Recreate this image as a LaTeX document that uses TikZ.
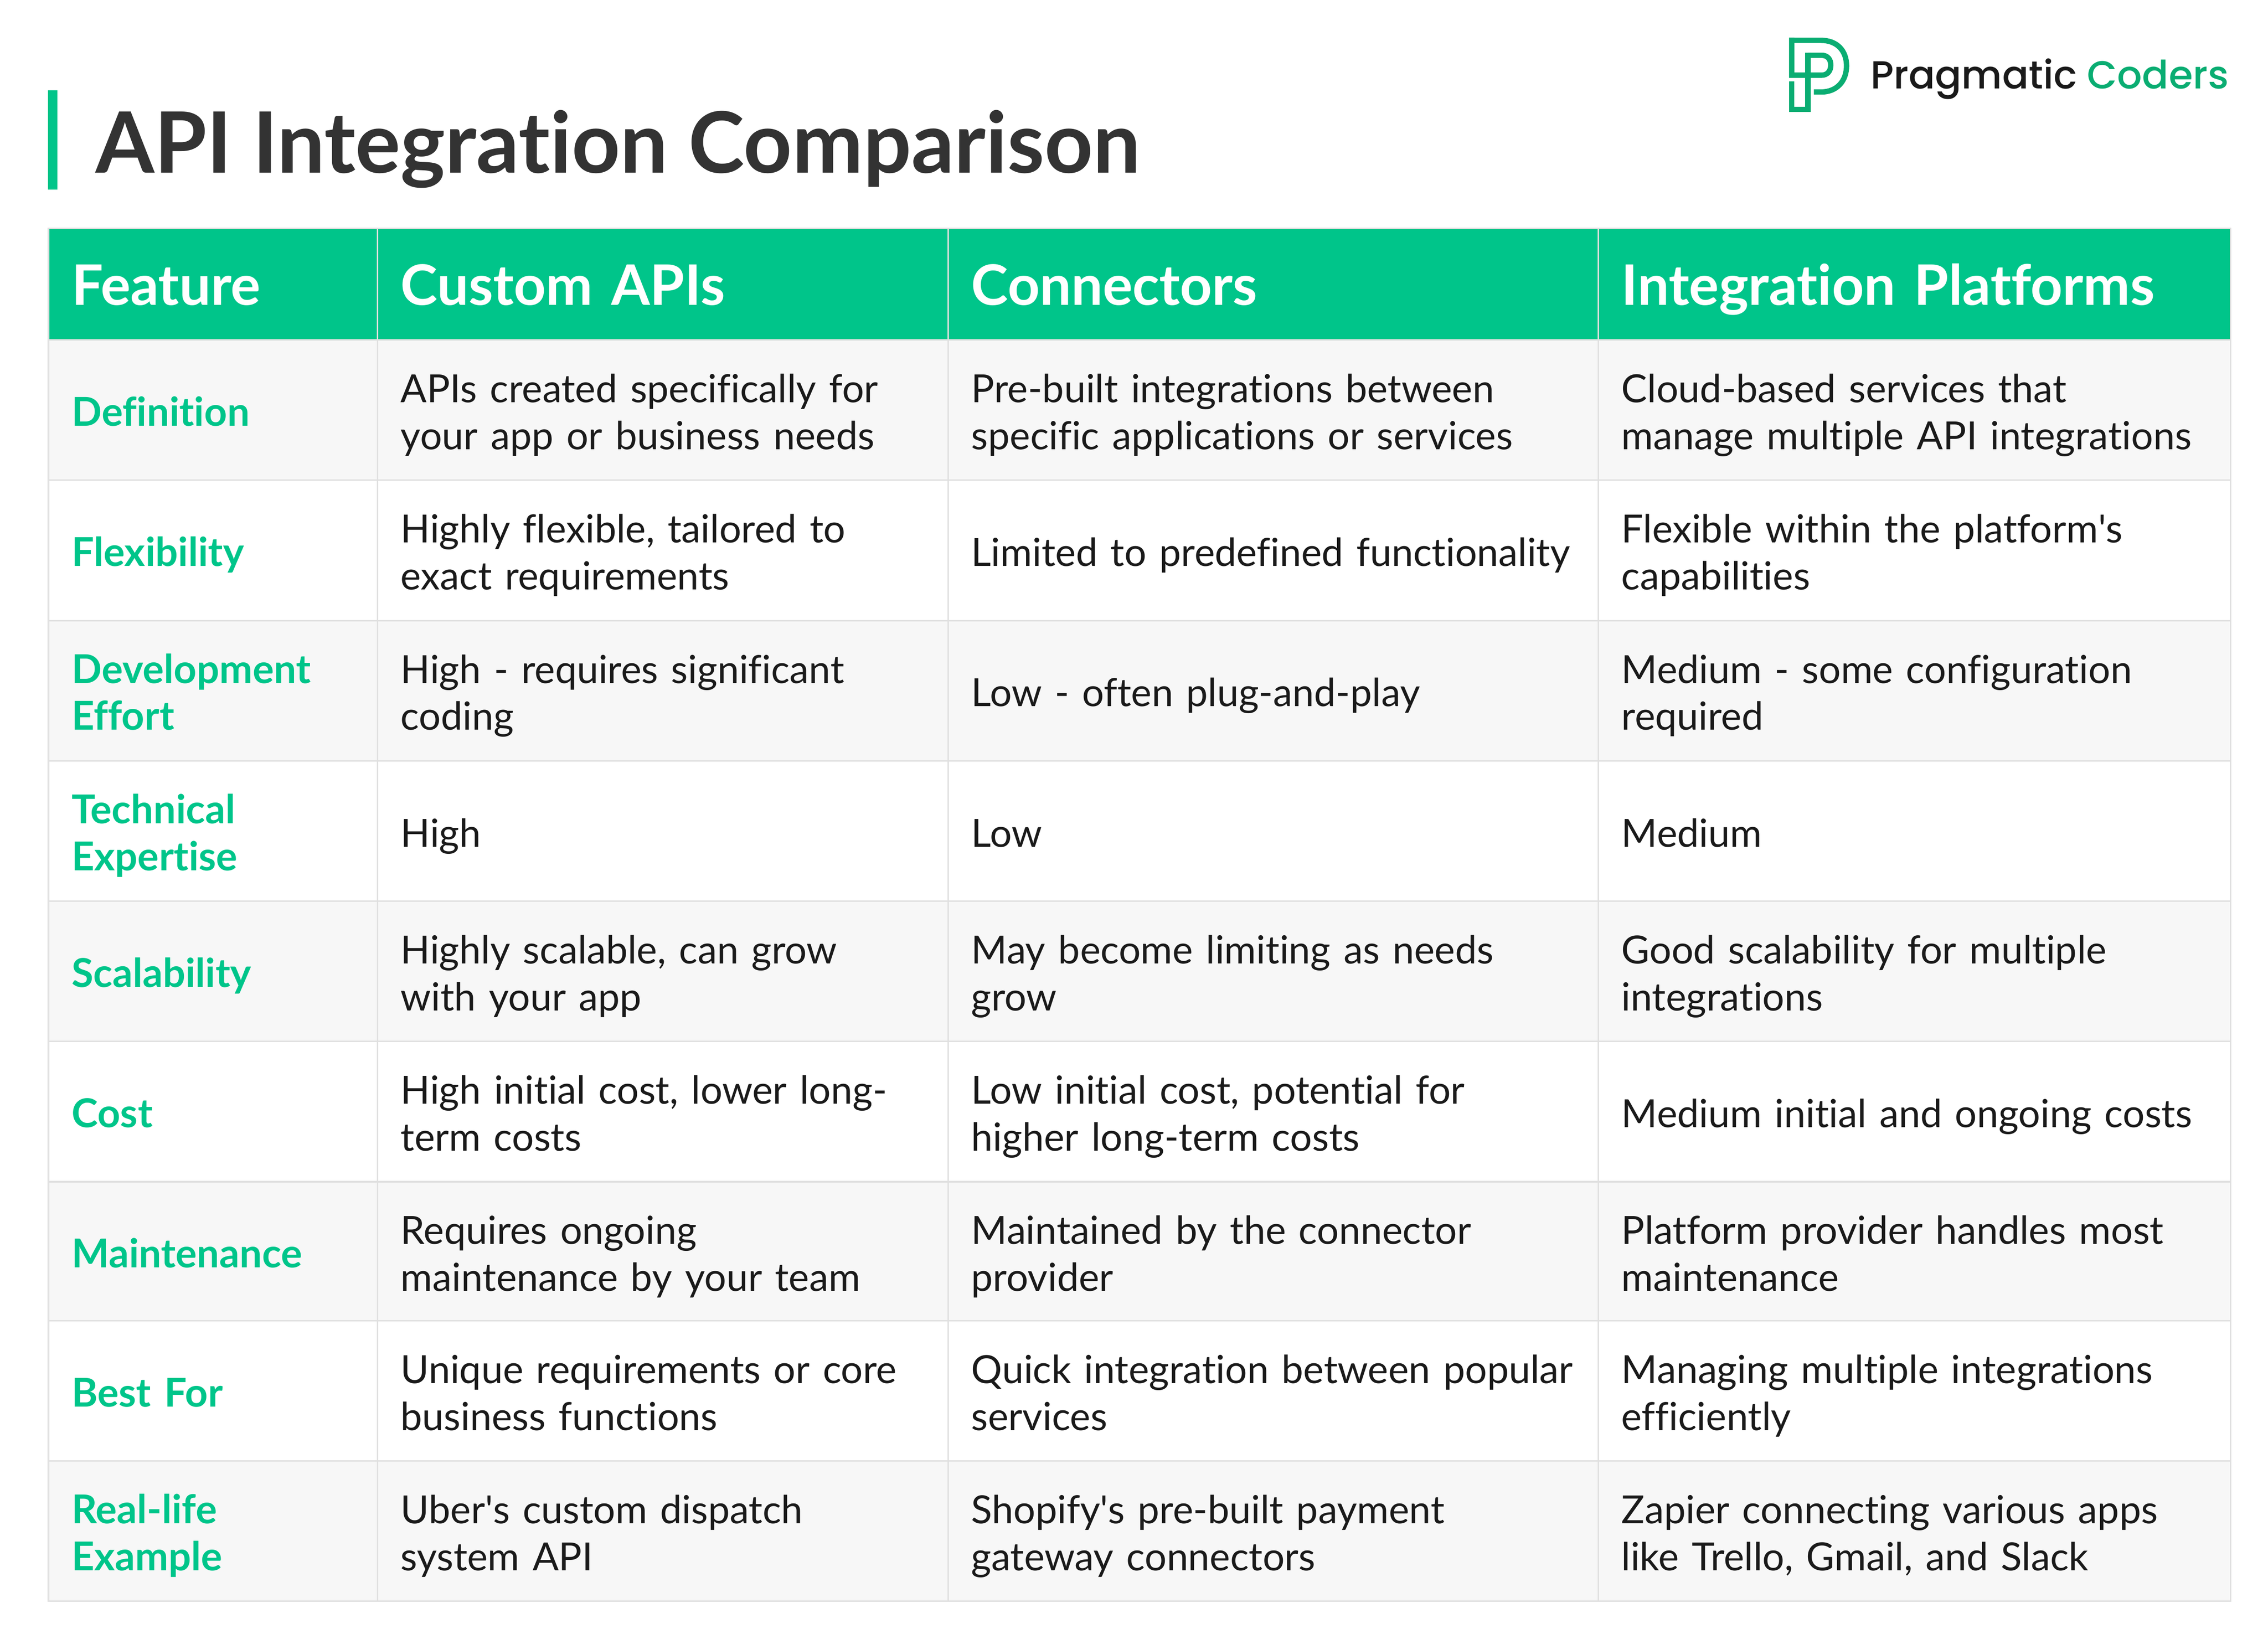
\documentclass[tikz,border=0pt]{standalone}
\usepackage{fontspec}
\usepackage{xcolor}
\setmainfont{Lato}[Ligatures=NoCommon]
\newfontfamily\logofont{Poppins Medium}
\definecolor{mintgreen}{HTML}{00C58A}
\definecolor{logogreen}{HTML}{0AAD72}
\definecolor{logoblack}{HTML}{1A1A1A}
\definecolor{titlegray}{HTML}{333333}
\definecolor{bodyblack}{HTML}{1A1A1A}
\definecolor{rulegray}{HTML}{E0E0E0}
\definecolor{zebragray}{HTML}{F7F7F7}
\newcommand{\cellstrut}{\rule[-8pt]{0pt}{32.5pt}}
\newcommand{\topstrut}{\rule[-8pt]{0pt}{38pt}}
\newcommand{\headstrut}{\rule[-10pt]{0pt}{49pt}}
\newcommand{\nl}{\cellstrut\\\cellstrut}
\newcommand{\apos}{\textquotesingle{}}
\tikzset{
  anycell/.style={draw=rulegray, line width=1pt, anchor=north west, inner xsep=16pt, inner ysep=0pt, outer sep=0pt, align=left},
  colone/.style={text width=195.5pt},
  coltwo/.style={text width=362.5pt},
  colthree/.style={text width=417.5pt},
  colfour/.style={text width=405pt},
  headcell/.style={anycell, fill=mintgreen, text=white, minimum height=77pt, font=\fontsize{38.6}{32.5}\selectfont\bfseries,
    execute at begin node=\headstrut},
  rowcell/.style={anycell, minimum height=97pt, text=bodyblack, font=\fontsize{26.8}{32.5}\selectfont,
    execute at begin node=\topstrut, execute at end node=\cellstrut},
  keycell/.style={rowcell, colone, text=mintgreen, font=\fontsize{27.5}{32.5}\selectfont\bfseries},
  greyrow/.style={fill=zebragray},
  whiterow/.style={fill=white},
  logoline/.style={draw=logogreen, line width=3.7pt, miter limit=10}
}
\begin{document}
\begin{tikzpicture}[x=1pt,y=-1pt]
\useasboundingbox (0,0) rectangle (1568,1133);

% Titulo con su barra verde
\fill[mintgreen] (33.2,62.5) rectangle (39.6,131);
\node (title) at (66,103) [anchor=west, inner sep=0pt, text=titlegray, font=\fontsize{58.5}{60}\selectfont\bfseries] {API Integration Comparison};

% Logotipo
\draw[logoline] (1238.7,26) -- (1238.7,52) -- (1259.2,52) .. controls (1263.5,52) and (1265.7,49) .. (1265.7,45) .. controls (1265.7,41) and (1263.5,38.2) .. (1259.2,38.2) -- (1249.9,38.2);
\draw[logoline] (1238.7,27.9) -- (1259,27.9) .. controls (1270,27.9) and (1276.6,35) .. (1276.6,45.5) .. controls (1276.6,56) and (1270,63.6) .. (1259,63.6) -- (1254,63.6);
\draw[logoline] (1249.9,36.3) -- (1249.9,75.6) -- (1238.7,75.6) -- (1238.7,56.4);
\node (logotext) at (1293,54.5) [anchor=west, inner sep=0pt, text=logoblack, font=\logofont\fontsize{27}{30}\selectfont] {Pragmatic \textcolor{logogreen}{Coders}};

% Cabecera
\node (headfeature) at (33.5,158) [headcell, colone] {Feature};
\node (headcustom) at (261,158) [headcell, coltwo] {Custom APIs};
\node (headconnect) at (655.5,158) [headcell, colthree] {Connectors};
\node (headplatform) at (1105,158) [headcell, colfour] {Integration Platforms};

% Definition
\node (keydef) at (33.5,235) [keycell, greyrow] {Definition};
\node (customdef) at (261,235) [rowcell, greyrow, coltwo] {APIs created specifically for\nl your app or business needs};
\node (connectdef) at (655.5,235) [rowcell, greyrow, colthree] {Pre-built integrations between\nl specific applications or services};
\node (platformdef) at (1105,235) [rowcell, greyrow, colfour] {Cloud-based services that\nl manage multiple API integrations};

% Flexibility
\node (keyflex) at (33.5,332) [keycell, whiterow] {Flexibility};
\node (customflex) at (261,332) [rowcell, whiterow, coltwo] {Highly flexible, tailored to\nl exact requirements};
\node (connectflex) at (655.5,332) [rowcell, whiterow, colthree] {Limited to predefined functionality};
\node (platformflex) at (1105,332) [rowcell, whiterow, colfour] {Flexible within the platform\apos s\nl capabilities};

% Development Effort
\node (keyeffort) at (33.5,429) [keycell, greyrow] {Development\nl Effort};
\node (customeffort) at (261,429) [rowcell, greyrow, coltwo] {High - requires significant\nl coding};
\node (connecteffort) at (655.5,429) [rowcell, greyrow, colthree] {Low - often plug-and-play};
\node (platformeffort) at (1105,429) [rowcell, greyrow, colfour] {Medium - some configuration\nl required};

% Technical Expertise
\node (keyexpert) at (33.5,526) [keycell, whiterow] {Technical\nl Expertise};
\node (customexpert) at (261,526) [rowcell, whiterow, coltwo] {High};
\node (connectexpert) at (655.5,526) [rowcell, whiterow, colthree] {Low};
\node (platformexpert) at (1105,526) [rowcell, whiterow, colfour] {Medium};

% Scalability
\node (keyscale) at (33.5,623) [keycell, greyrow] {Scalability};
\node (customscale) at (261,623) [rowcell, greyrow, coltwo] {Highly scalable, can grow\nl with your app};
\node (connectscale) at (655.5,623) [rowcell, greyrow, colthree] {May become limiting as needs\nl grow};
\node (platformscale) at (1105,623) [rowcell, greyrow, colfour] {Good scalability for multiple\nl integrations};

% Cost
\node (keycost) at (33.5,720) [keycell, whiterow] {Cost};
\node (customcost) at (261,720) [rowcell, whiterow, coltwo] {High initial cost, lower long-\nl term costs};
\node (connectcost) at (655.5,720) [rowcell, whiterow, colthree] {Low initial cost, potential for\nl higher long-term costs};
\node (platformcost) at (1105,720) [rowcell, whiterow, colfour] {Medium initial and ongoing costs};

% Maintenance
\node (keymaint) at (33.5,817) [keycell, greyrow] {Maintenance};
\node (custommaint) at (261,817) [rowcell, greyrow, coltwo] {Requires ongoing\nl maintenance by your team};
\node (connectmaint) at (655.5,817) [rowcell, greyrow, colthree] {Maintained by the connector\nl provider};
\node (platformmaint) at (1105,817) [rowcell, greyrow, colfour] {Platform provider handles most\nl maintenance};

% Best For
\node (keybest) at (33.5,913) [keycell, whiterow] {Best For};
\node (custombest) at (261,913) [rowcell, whiterow, coltwo] {Unique requirements or core\nl business functions};
\node (connectbest) at (655.5,913) [rowcell, whiterow, colthree] {\mbox{Quick integration between popular}\nl services};
\node (platformbest) at (1105,913) [rowcell, whiterow, colfour] {Managing multiple integrations\nl efficiently};

% Real-life Example
\node (keyreal) at (33.5,1010) [keycell, greyrow] {Real-life\nl Example};
\node (customreal) at (261,1010) [rowcell, greyrow, coltwo] {Uber\apos s custom dispatch\nl system API};
\node (connectreal) at (655.5,1010) [rowcell, greyrow, colthree] {Shopify\apos s pre-built payment\nl gateway connectors};
\node (platformreal) at (1105,1010) [rowcell, greyrow, colfour] {Zapier connecting various apps\nl like Trello, Gmail, and Slack};
\end{tikzpicture}
\end{document}
